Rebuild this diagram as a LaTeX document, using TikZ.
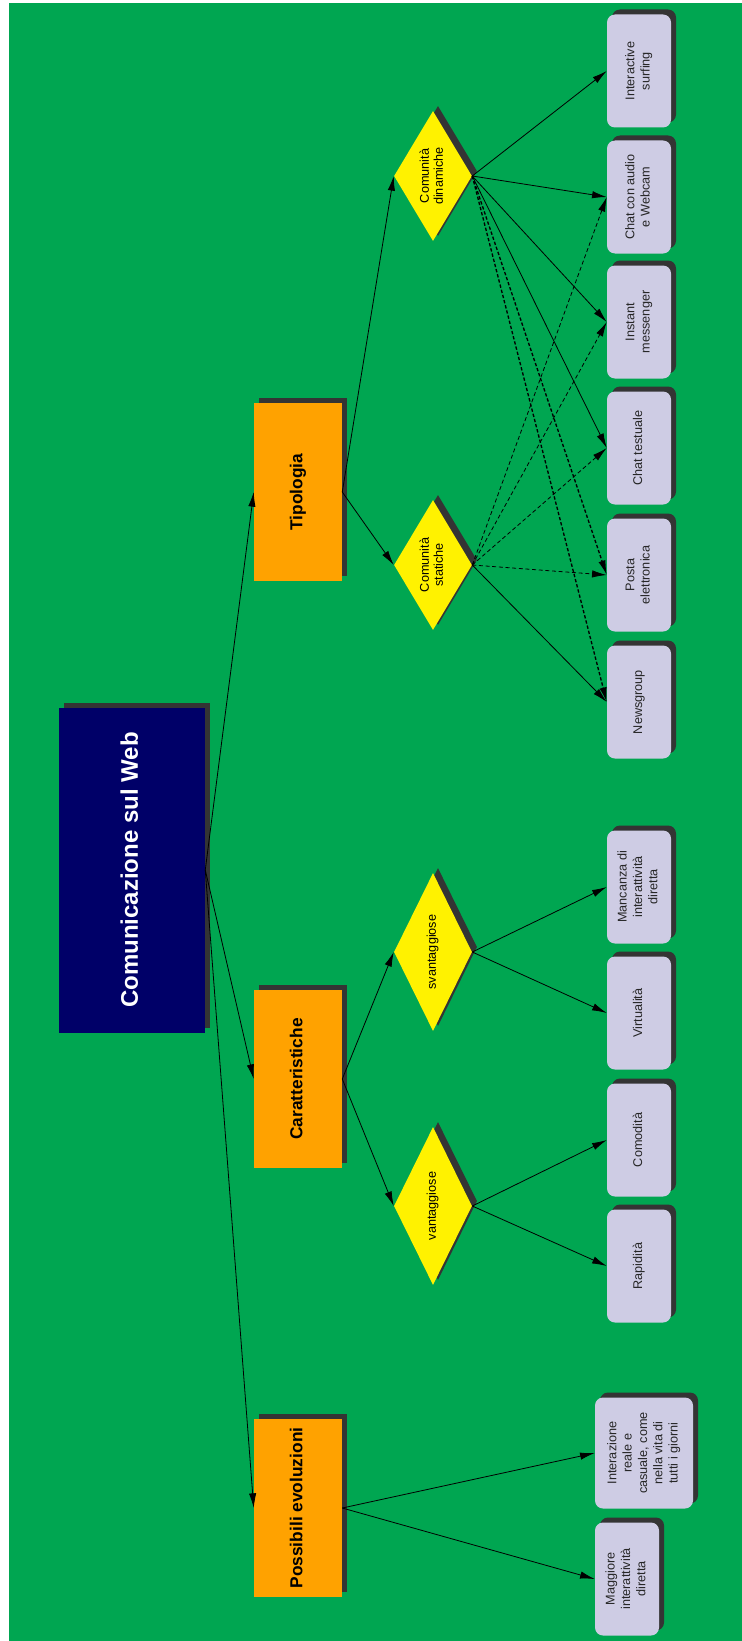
\documentclass[tikz,border=0pt]{standalone}
\usepackage{fontspec}
\setmainfont{Liberation Sans}
\usepackage{graphicx}
\usetikzlibrary{shapes.geometric,shadows,arrows.meta}

\definecolor{bggreen}{RGB}{0,166,81}
\definecolor{rootblue}{RGB}{0,0,104}
\definecolor{topicorange}{RGB}{255,162,0}
\definecolor{leafgray}{RGB}{206,204,228}
\definecolor{shadowgray}{RGB}{52,52,52}
\newcommand{\rot}[1]{\rotatebox{90}{\begin{tabular}{@{}c@{}}#1\end{tabular}}}

\begin{document}
\begin{tikzpicture}[x=0.75pt, y=-0.75pt,
    boxshadow/.style={drop shadow={shadow xshift=3.75pt, shadow yshift=3.75pt, opacity=1, fill=shadowgray}},
    root/.style={rectangle, fill=rootblue, boxshadow, minimum width=109.5pt, minimum height=243.75pt, text=white, font=\fontsize{18}{22}\selectfont\bfseries},
    topic/.style={rectangle, fill=topicorange, boxshadow, minimum width=66pt, minimum height=133.5pt, font=\fontsize{13}{16}\selectfont\bfseries},
    kind/.style={diamond, fill=yellow, boxshadow, inner sep=0pt, shape aspect=0.6, minimum width=58.5pt, minimum height=97.5pt, font=\fontsize{9.5}{10.5}\selectfont},
    leaf/.style={rectangle, rounded corners=6pt, fill=leafgray, boxshadow, inner sep=0pt, minimum width=48pt, minimum height=84.75pt, text=black!85, font=\fontsize{9.5}{11.5}\selectfont},
    link/.style={-{Latex[length=11pt, width=5.5pt]}, line width=0.6pt},
    dashlink/.style={link, dash pattern=on 3pt off 2pt},
    heavylink/.style={link, line width=1pt, dash pattern=on 2.5pt off 1.5pt}
]
\useasboundingbox (0,0) rectangle (742,1641);
\fill[white] (0,0) rectangle (742,1641);
\fill[bggreen] (9,3) rectangle (742,1641);

% Root and main topics
\node[root] (root) at (132,870) {\rot{Comunicazione sul Web}};
\node[topic] (tipo) at (298,492) {\rot{Tipologia}};
\node[topic] (cara) at (298,1079) {\rot{Caratteristiche}};
\node[topic] (evol) at (298,1508) {\rot{Possibili evoluzioni}};

% Kinds
\node[kind] (din) at (433,176) {\rot{Comunità\\dinamiche}};
\node[kind] (sta) at (433,565) {\rot{Comunità\\statiche}};
\node[kind, minimum height=118.5pt] (svan) at (433,952) {\rot{svantaggiose}};
\node[kind, minimum height=118.5pt] (van) at (433,1206) {\rot{vantaggiose}};

% Leaves
\foreach \name/\ypos/\txt in {surf/71/{Interactive\\surfing}, cam/197/{Chat con audio\\e Webcam},
    msg/322/{Instant\\messenger}, chat/448/{Chat testuale}, mail/575/{Posta\\elettronica},
    news/702/{Newsgroup}, lack/887/{Mancanza di\\interattività\\diretta}, virt/1013/{Virtualità},
    comf/1140/{Comodità}, fast/1266/{Rapidità}}
  \node[leaf] (\name) at (639,\ypos) {\rot{\txt}};
\node[leaf, minimum width=73.5pt, minimum height=83.25pt] (real) at (644,1453) {\rot{Interazione\\reale e\\casuale, come\\nella vita di\\tutti i giorni}};
\node[leaf] (more) at (627,1579) {\rot{Maggiore\\interattività\\diretta}};

% Connections
\foreach \t in {tipo, cara, evol} \draw[link] (root.east) -- (\t.west);
\draw[link] (tipo.east) -- (din.west);
\draw[link] (tipo.east) -- (sta.west);
\draw[link] (cara.east) -- (svan.west);
\draw[link] (cara.east) -- (van.west);
\foreach \l in {surf, cam, msg, chat} \draw[link] (din.east) -- (\l.west);
\foreach \l in {mail, news} \draw[heavylink] (din.east) -- (\l.west);
\foreach \l in {cam, msg, chat, mail} \draw[dashlink] (sta.east) -- (\l.west);
\draw[link] (sta.east) -- (news.west);
\draw[link] (svan.east) -- (lack.west);
\draw[link] (svan.east) -- (virt.west);
\draw[link] (van.east) -- (comf.west);
\draw[link] (van.east) -- (fast.west);
\draw[link] (evol.east) -- (real.west);
\draw[link] (evol.east) -- (more.west);

\end{tikzpicture}
\end{document}
